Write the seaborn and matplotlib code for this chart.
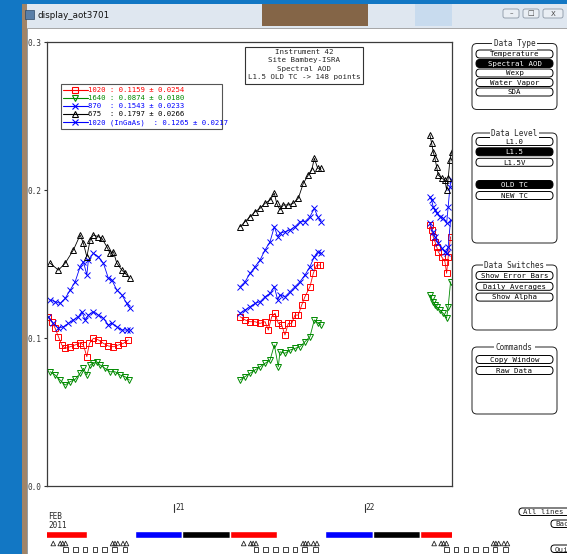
import numpy as np
import pandas as pd
import matplotlib
matplotlib.use("Agg")
import matplotlib.pyplot as plt
from matplotlib.patches import Rectangle, FancyBboxPatch
import seaborn as sns

# ---------------- data (time = hours since 2011-02-20 00:00) ----------------
t_1020 = [8.14, 8.57, 8.99, 9.40, 9.83, 10.25, 10.88, 11.51, 12.14, 12.55, 12.98, 13.31, 13.81, 14.44, 15.07, 15.70, 16.33, 16.96, 17.59, 18.22,
          32.29, 32.92, 33.55, 34.18, 34.81, 35.44, 35.85, 36.28, 36.70, 37.11, 37.54, 37.95, 38.37, 38.80, 39.21, 39.63, 40.06, 40.47, 41.10, 41.52, 41.95, 42.36,
          56.22, 56.43, 56.63, 56.85, 57.06, 57.26, 57.69, 58.11, 58.32, 58.52, 58.82]
aod_1020 = [.1146, .1112, .1068, .1011, .0955, .0932, .0943, .0955, .0970, .0955, .0876, .0966, .1000, .0989, .0966, .0948, .0943, .0955, .0966, .0989,
            .1146, .1124, .1112, .1112, .1101, .1112, .1056, .1146, .1169, .1101, .1090, .1022, .1101, .1101, .1157, .1157, .1225, .1281, .1349, .1439, .1495, .1495,
            .1766, .1732, .1686, .1653, .1619, .1585, .1551, .1518, .1439, .1551, .1686]

t_1640 = [8.36, 8.99, 9.62, 10.25, 10.88, 11.51, 12.14, 12.55, 12.98, 13.40, 13.81, 14.23, 14.65, 15.28, 15.91, 16.54, 17.17, 17.80, 18.35,
          32.29, 32.92, 33.55, 34.18, 34.81, 35.44, 36.07, 36.61, 37.11, 37.32, 37.95, 38.58, 39.21, 39.84, 40.47, 41.10, 41.65, 42.15, 42.49,
          56.22, 56.43, 56.63, 56.85, 57.06, 57.48, 57.89, 58.32, 58.52, 58.82]
aod_1640 = [.0774, .0752, .0718, .0684, .0707, .0723, .0764, .0797, .0752, .0820, .0831, .0842, .0820, .0797, .0774, .0774, .0752, .0741, .0718,
            .0718, .0741, .0764, .0786, .0808, .0831, .0853, .0955, .0808, .0909, .0899, .0921, .0932, .0943, .0977, .1011, .1124, .1101, .1090,
            .1293, .1270, .1247, .1225, .1214, .1191, .1169, .1135, .1214, .1382]

t_870 = [8.36, 8.99, 9.62, 10.25, 10.88, 11.51, 12.14, 12.55, 12.98, 13.18, 13.81, 14.44, 15.07, 15.70, 16.13, 16.76, 17.39, 18.01, 18.43,
         32.29, 32.92, 33.55, 34.18, 34.81, 35.44, 36.07, 36.61, 37.03, 37.32, 37.95, 38.58, 39.21, 39.84, 40.47, 41.10, 41.65, 42.07, 42.49,
         56.22, 56.43, 56.63, 56.85, 57.06, 57.48, 57.89, 58.32, 58.52, 58.74, 58.95]
aod_870 = [.1259, .1247, .1236, .1270, .1326, .1382, .1484, .1518, .1428, .1529, .1574, .1551, .1507, .1405, .1394, .1326, .1293, .1236, .1203,
           .1349, .1382, .1439, .1484, .1529, .1597, .1653, .1754, .1686, .1709, .1720, .1732, .1754, .1788, .1788, .1822, .1878, .1822, .1788,
           .1957, .1934, .1889, .1867, .1845, .1822, .1811, .1777, .1889, .2024, .2070]

t_675 = [8.36, 9.40, 10.25, 11.29, 12.14, 12.55, 12.98, 13.40, 13.81, 14.44, 14.87, 15.50, 15.91, 16.33, 16.76, 17.39, 17.80, 18.43,
         32.29, 32.92, 33.55, 34.18, 34.81, 35.44, 36.07, 36.61, 36.91, 37.32, 37.74, 38.37, 39.00, 39.63, 40.26, 40.89, 41.32, 41.65, 42.07, 42.49,
         56.22, 56.43, 56.63, 56.85, 57.06, 57.26, 57.69, 58.11, 58.32, 58.52, 58.74, 58.95]
aod_675 = [.1507, .1461, .1507, .1597, .1698, .1642, .1551, .1664, .1698, .1686, .1676, .1619, .1574, .1585, .1507, .1461, .1439, .1405,
           .1754, .1788, .1822, .1855, .1878, .1912, .1934, .1980, .1912, .1867, .1901, .1901, .1912, .1946, .2047, .2103, .2137, .2216, .2149, .2149,
           .2374, .2318, .2261, .2216, .2159, .2103, .2081, .2070, .2002, .2081, .2205, .2261]

t_1020i = [8.14, 8.77, 9.40, 10.03, 10.66, 11.29, 11.92, 12.35, 12.77, 13.18, 13.81, 14.44, 15.07, 15.70, 16.13, 16.76, 17.39, 18.01, 18.43,
           32.29, 32.92, 33.55, 34.18, 34.81, 35.44, 36.07, 36.61, 37.03, 37.32, 37.95, 38.58, 39.21, 39.84, 40.47, 41.10, 41.65, 42.07, 42.49,
           56.22, 56.63, 56.85, 57.26, 57.69, 58.11, 58.32, 58.52, 58.82]
aod_1020i = [.1146, .1101, .1068, .1078, .1101, .1124, .1146, .1180, .1124, .1157, .1180, .1157, .1135, .1090, .1101, .1078, .1056, .1056, .1056,
             .1169, .1191, .1214, .1236, .1247, .1281, .1304, .1349, .1259, .1293, .1281, .1315, .1349, .1382, .1428, .1484, .1551, .1585, .1574,
             .1777, .1720, .1686, .1642, .1608, .1585, .1574, .1619, .1799]

series_labels = ["1020", "1640", "870", "675", "1020 (InGaAs)"]
series_stats = ["0.1159 \u00b1 0.0254", "0.0874 \u00b1 0.0180", "0.1543 \u00b1 0.0233",
                "0.1797 \u00b1 0.0266", "0.1265 \u00b1 0.0217"]
info_lines = ["Instrument 42", "Site Bambey-ISRA", "Spectral AOD", "L1.5 OLD TC -> 148 points"]
y_ticks = [0.0, 0.1, 0.2, 0.3]
day_ticks = [24, 48]
day_labels = ["21", "22"]
month_label = ["FEB", "2011"]
bar_starts = [7, 19, 25, 31, 43, 49, 55]
bar_colors = ["#ff0000", "#0000ff", "#000000", "#ff0000", "#0000ff", "#000000", "#ff0000"]
bar_len = 6
tri_hours = [8.75, 9.63, 9.94, 10.30, 16.23, 16.53, 16.88, 17.54, 17.98]
sq_hours = [10.30, 11.52, 12.75, 13.99, 15.21, 16.44, 17.77]
sched_days = [0, 24, 48]
data_type_btns = ["Temperature", "Spectral AOD", "Wexp", "Water Vapor", "SDA"]
data_level_btns = ["L1.0", "L1.5", "L1.5V", "OLD TC", "NEW TC"]
switch_btns = ["Show Error Bars", "Daily Averages", "Show Alpha"]
command_btns = ["Copy Window", "Raw Data"]

# ---------------- styling ----------------
sns.set_style("white")
MONO = ["DejaVu Sans Mono"]
plt.rcParams["font.family"] = MONO
W, H = 567, 554
fig = plt.figure(figsize=(W / 100, H / 100), dpi=100)


def fr(x0, y0, x1, y1):
    return [x0 / W, 1 - y1 / H, (x1 - x0) / W, (y1 - y0) / H]


bg = fig.add_axes([0, 0, 1, 1], zorder=0)
bg.set_xlim(0, W)
bg.set_ylim(H, 0)
bg.axis("off")


def rect(x0, y0, x1, y1, **kw):
    bg.add_patch(Rectangle((x0, y0), x1 - x0, y1 - y0, **kw))


# window chrome
rect(0, 0, W, H, fc="#1277c4", ec="none")
rect(22, 4, W, 29, fc="#dfe7f0", ec="none")
rect(262, 4, 368, 26, fc="#7a5734", ec="none", alpha=0.9)
rect(415, 4, 452, 26, fc="#c8dbee", ec="none")
rect(21.5, 4, 27, H, fc="#a08468", ec="none")
rect(27, 27.5, W, H, fc="white", ec="#999999", lw=0.6)
rect(25, 10, 34, 19, fc="#5a7fa8", ec="#2b4766", lw=0.5)
bg.text(37, 15.5, "display_aot3701", fontsize=6.3, family=["DejaVu Sans"], va="center", ha="left", color="#111111")
for (x0, x1, g) in [(503, 519, "\u2013"), (523, 539, "\u25a1"), (543, 563, "X")]:
    bg.add_patch(FancyBboxPatch((x0, 9), x1 - x0, 9, boxstyle="round,pad=0,rounding_size=2",
                                fc="#e9eef4", ec="#8a96a4", lw=0.6))
    bg.text((x0 + x1) / 2, 13.5, g, fontsize=5, ha="center", va="center", color="#444444",
            family=["DejaVu Sans"])


def button(xc, yc, label, active=False, w=77, h=8):
    fc, tc = ("black", "white") if active else ("white", "black")
    bg.add_patch(FancyBboxPatch((xc - w / 2, yc - h / 2), w, h,
                                boxstyle="round,pad=0,rounding_size=3.8", fc=fc, ec="black", lw=0.7))
    bg.text(xc, yc + 0.3, label, fontsize=5.3, ha="center", va="center", color=tc)


def group(y0, y1, title, x0=472, x1=557):
    bg.add_patch(FancyBboxPatch((x0, y0), x1 - x0, y1 - y0, boxstyle="round,pad=0,rounding_size=5",
                                fc="white", ec="#222222", lw=0.7))
    bg.text((x0 + x1) / 2, y0, title, fontsize=5.5, ha="center", va="center",
            bbox=dict(fc="white", ec="none", pad=1.2))


group(43.5, 109.5, "Data Type")
for i, b in enumerate(data_type_btns):
    button(514.5, 54 + i * 9.5, b, active=(b == "Spectral AOD"))
group(133, 243, "Data Level")
for b, y in zip(data_level_btns, [141.5, 151.8, 162.3, 184.5, 195.5]):
    button(514.5, y, b, active=b in ("L1.5", "OLD TC"))
group(265, 330, "Data Switches")
for i, b in enumerate(switch_btns):
    button(514.5, 275.5 + i * 10.8, b)
group(347, 414, "Commands")
for i, b in enumerate(command_btns):
    button(514.5, 359.5 + i * 11, b)

# bottom-right buttons (partially outside the window, as in the screenshot)
for (x0, y0, lab) in [(519, 508, "All lines"), (551, 520, "Back"), (551, 545, "Quit")]:
    bg.add_patch(FancyBboxPatch((x0, y0), 70, 7.5, boxstyle="round,pad=0,rounding_size=3.5",
                                fc="white", ec="black", lw=0.7))
    bg.text(x0 + 4, y0 + 4, lab, fontsize=5.3, ha="left", va="center")

# info box
rect(245, 46.5, 363, 83.5, fc="white", ec="#333333", lw=0.8)
for i, s in enumerate(info_lines):
    bg.text(304, 52 + i * 8.3, s, fontsize=5.4, ha="center", va="center")

# ---------------- main plot ----------------
colors = ["#ff0000", "#008a00", "#0000ff", "#000000", "#0000ff"]
markers = ["s", "v", "x", "^", "x"]
times = [t_1020, t_1640, t_870, t_675, t_1020i]
values = [aod_1020, aod_1640, aod_870, aod_675, aod_1020i]

ax = fig.add_axes(fr(47.3, 42.3, 452, 486.3), zorder=2)
ax.set_facecolor("none")
for lab, t, v, c, m in zip(series_labels, times, values, colors, markers):
    df = pd.DataFrame({"t": t, "aod": v})
    df["day"] = (df["t"] // 24).astype(int)
    sns.lineplot(data=df, x="t", y="aod", units="day", estimator=None, sort=False, ax=ax,
                 color=c, lw=0.6, marker=m, markersize=3.9, mfc="none", mec=c, mew=0.7,
                 legend=False)
ax.set_xlim(8, 59)
ax.set_ylim(0, 0.3)
ax.set_xticks([])
ax.set_yticks(y_ticks)
ax.set_yticklabels([f"{v:.1f}" for v in y_ticks], fontsize=5.6, color="#333333")
ax.tick_params(axis="y", direction="out", length=2.5, width=0.8, pad=2, left=True, color="#333333")
ax.set_xlabel("")
ax.set_ylabel("")
for sp in ax.spines.values():
    sp.set_color("#3c3c3c")
    sp.set_linewidth(0.9)

# legend box (pixel overlay)
rect(61, 84, 222, 128.5, fc="white", ec="#555555", lw=0.8)
for i, (lab, st, c, m) in enumerate(zip(series_labels, series_stats, colors, markers)):
    y = 89.5 + i * 8.2
    bg.plot([63, 88], [y, y], color=c, lw=0.8)
    bg.plot([75], [y], marker=m, mfc="none", mec=c, ms=4.3, mew=0.8)
    name = lab.ljust(4) if lab != "1020 (InGaAs)" else lab + " "
    bg.text(88.5, y + 0.3, f"{name} : {st}", fontsize=5.2, ha="left", va="center", color=c)

# ---------------- timeline strip ----------------
ax2 = fig.add_axes(fr(47.3, 495, 452, 554), zorder=1)
ax2.set_xlim(8, 59)
ax2.set_ylim(554, 495)
ax2.axis("off")
ax2.broken_barh([(s, bar_len) for s in bar_starts], (531.3, 7), facecolors=bar_colors)
for d, lab in zip(day_ticks, day_labels):
    ax2.plot([d, d], [503.5, 512], color="#333333", lw=0.8, clip_on=False)
    ax2.text(d + 0.12, 508, lab, fontsize=5.6, ha="left", va="center", clip_on=False)
ax2.text(8.1, 516.8, month_label[0], fontsize=5.6, ha="left", va="center")
ax2.text(8.1, 525.5, month_label[1], fontsize=5.6, ha="left", va="center")
tri_x = [d + h for d in sched_days for h in tri_hours]
sq_x = [d + h for d in sched_days for h in sq_hours]
ax2.scatter(tri_x, [543.5] * len(tri_x), marker="^", s=11, facecolors="none", edgecolors="#222222",
            linewidths=0.6, clip_on=False)
ax2.scatter(sq_x, [549.8] * len(sq_x), marker="s", s=11, facecolors="none", edgecolors="#222222",
            linewidths=0.6, clip_on=False)

fig.savefig("out.png", dpi=100)
